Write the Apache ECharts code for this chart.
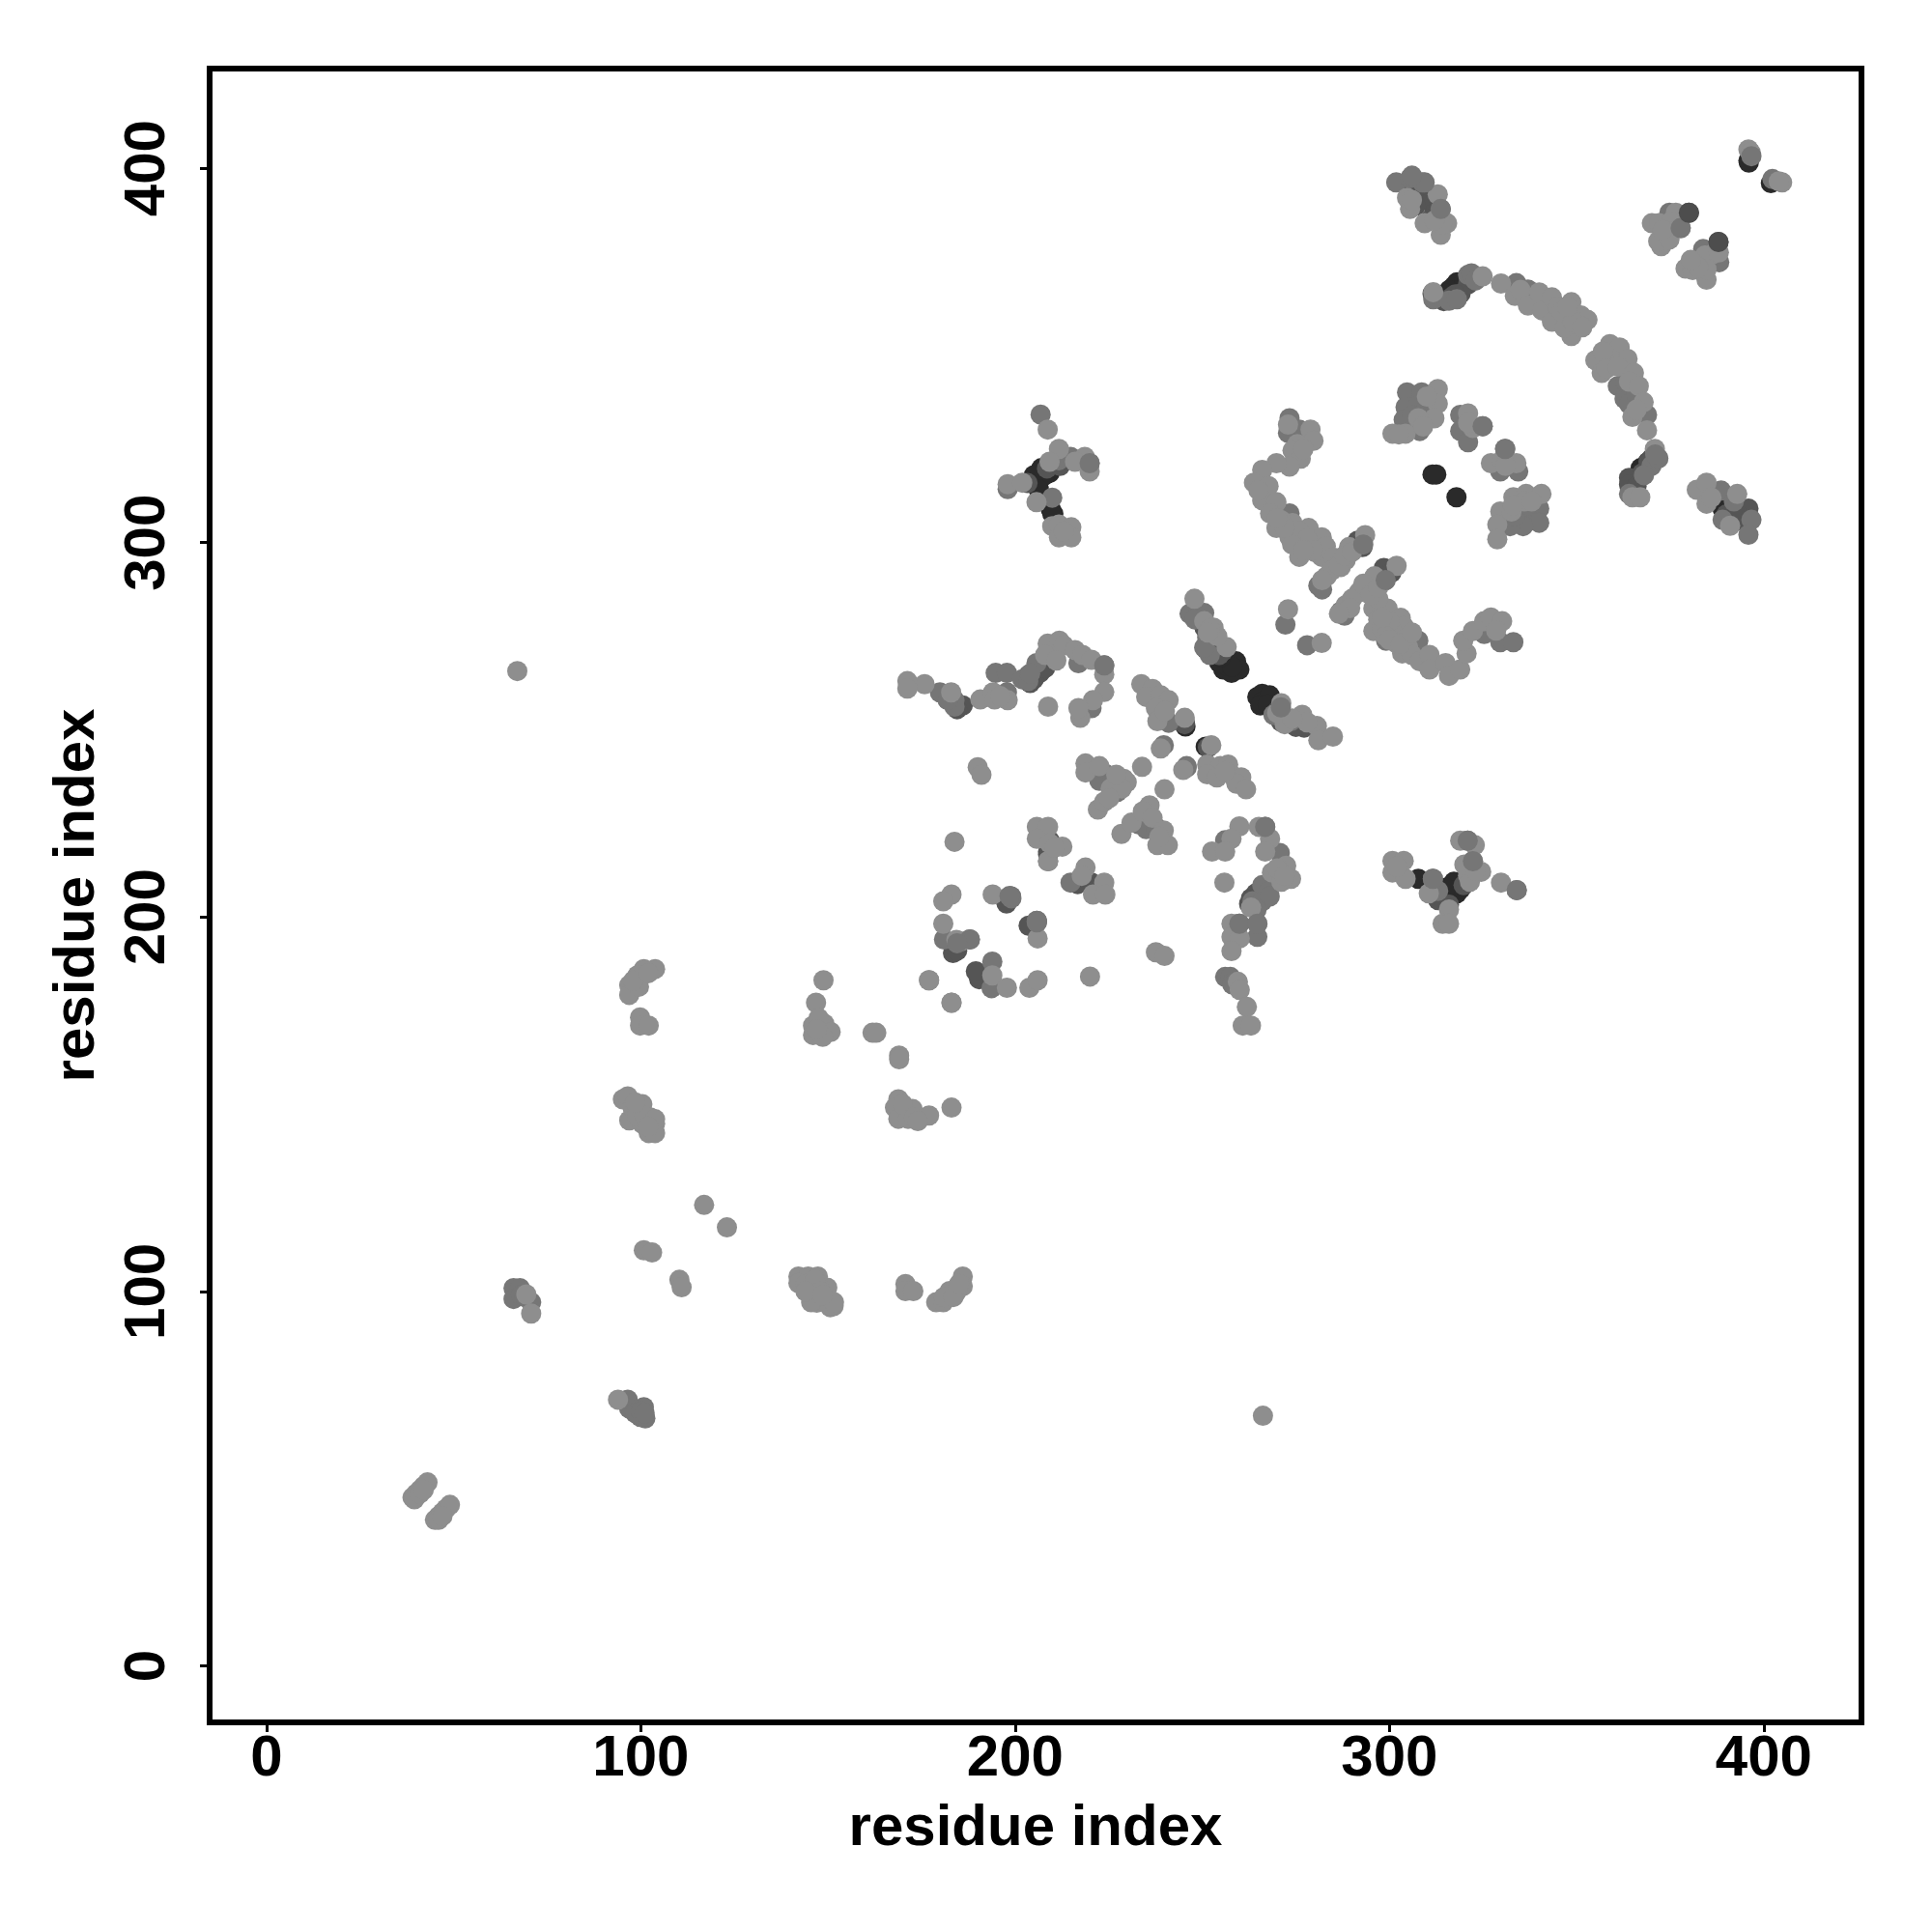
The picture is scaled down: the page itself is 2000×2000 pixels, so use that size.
<!DOCTYPE html>
<html><head><meta charset="utf-8">
<script src="https://cdn.jsdelivr.net/npm/echarts@6/dist/echarts.min.js"></script>
<style>html,body{margin:0;padding:0;background:#fff}#c{width:2000px;height:2000px}</style></head>
<body><div id="c"></div>
<script>
const tickValues=[0,100,200,300,400];
const axisTitle='residue index';
const blackPoints=[
[395.9,402],[401.9,396],[311.5,318.2],[312.5,318.2],[317.9,312.1],
[317.2,368.5],[319.3,368.5],[318,369.5],[316,367.5],[320,370],[315,366.5],
[367.1,319.9],[366.6,317.8],[365.5,316.5],[368.5,320.5],[369,321.5],
[388.6,310],[389,309],
[207,319.9],[209.2,318.6],[206.2,317.7],[204.9,316.4],[206.2,314.7],[208,318],[210,320],[211,321],[205,318],
[209.9,307.8],[209.5,309],
[259,268.3],[255.6,266.1],[259.9,266.1],[257.8,265.2],[256.5,267.2],[254.5,268],[258,266.8],[255,269.5],
[266,259.6],[264.7,258.8],[266,257.5],[268,259.2],[265.5,256.5],[267.5,256.8],
[307.7,210.2],[314.2,206.3],[317.2,209.4],[318,206.3],[316,205.5],[319,207.5],[320,209.5],[315,207.8],[321,210.5],
[210.2,307.7],[206.3,314.2],
[250.9,245.5],[245.5,250.9],[396,401.5]
];
const darkPoints=[
[305.5,393.9],[308.8,394.5],[307,392],[310,392],[311,391],[307,390],[312,388],[311,386.5],
[319,366.5],[321,369],[317.6,366.3],[316.5,365.5],[322,370.5],[314.5,364.5],
[369.2,321.6],[364,317.3],[364,315.5],[366,315],[367.5,318.5],[370,322.5],
[392.4,309.6],[395.9,309.1],[392.4,305.7],[390,307.5],[393,307.5],
[380,388.1],[387.9,380.3],
[292.8,298.8],[298.5,293.2],[291.5,300.5],[300.5,292],
[206.6,265.2],[205,263.5],[208,266.5],[204,262.5],[203.5,264.5],[265.2,206.6],[264.3,206.3],[263,205],[266,207.5],[262.5,203.5],
[245.3,251.5],[251.5,245.3],[245.3,252],
[208.8,216.7],[216.9,209.4],[216.7,208.8],[208.8,217.5],[183.4,190.4],[184.5,191],[190.4,183.4],[190.3,184.2],[189.5,185.5],
[197.6,204.2],[204.2,197.6],[203.6,197.7],[197.7,203.6],[220.4,209.2],[209.2,220.4],
[277.2,250.6],[275,250.8],[271,252.2],[250.6,277.2],[252,274],[251,271.5],
[255.5,271],[254.5,270],[252.5,272.5],[270,255],[272.5,253],
[315.9,203.3],[319.8,208.5],[313,204.5],[203.3,315.9],[311.5,366.5],
[208.5,319.8],[212,320.5],[186,256.5],[184.5,255.5]
];
const mediumPoints=[
[66,100.9],[67.7,100.9],[66,98],[70.7,97.1],[68,99],[69,98.5],
[96.5,71.1],[96.9,68.7],[100.8,69.1],[99.9,66.5],[101.2,66.1],[98.5,67.5],[100,68],[101,67.5],
[301.8,396.2],[305.5,397.3],[313.7,389.1],[308.8,396.2],
[374.8,388.1],[377.8,384],[383.8,378.4],[388.1,374.9],[402.3,397.1],
[311.7,365],[315.9,364.6],[321,371.5],[321.9,371.9],[323,370],[318,365],
[333.9,369.3],[337,367.6],[361,341.8],[362.8,338.4],[368.8,334.1],[364,337],[363,343],[366,339.5],[342,364],[339,365],[336,366.5],
[371.8,322.5],[370,320.5],[368,318],[364,313],
[388.6,313.9],[389,306.1],[396.7,306.1],[395.9,302.1],[392,311],
[304.7,340.1],[308.6,340.1],[304.3,336.2],[307.7,336.7],[303.8,332.8],[308.1,329.8],[306,334],[310,336],
[318.9,334.1],[318.9,329.8],[321,326.8],[324.9,331.1],
[330.9,325],[329.6,319],[334.4,319],
[340,309.1],[336.5,307.8],[340,305.3],[335.7,304.4],[332.2,304.4],[333.5,307],[337,310],
[273.3,333.2],[272.9,329.3],[275.9,330.2],[273.3,307.8],
[281,288.5],[282,287.5],[287,281.6],[288,280.5],[307.7,273.8],[299.1,273.8],[325.3,275.6],[329.6,273.4],[333.1,273.4],
[272.2,278.1],[278,272.6],
[269,254],[273.7,252.3],[251.3,274.7],[250.5,281.2],[246.6,281],[248,279.5],[252,270],[250.5,272],
[206.8,334.2],[214.8,322.9],[219.9,321.2],[211.7,322],[198,314.3],[209.9,312],
[179.9,260],[183.8,257.9],[183.8,256.2],[182,258],[197.8,260],[194.8,265.2],[197.8,265.2],[201.9,263.5],[203.5,263],[205.7,267.8],[216.9,267.8],[223.8,267.2],[204,265],
[220.4,255.8],[240.6,252.3],[241,251.9],[239.7,245.9],[245.8,239.9],[245.8,240.3],
[224.3,238.1],[227.3,233.4],[222.5,236.4],[232.9,224.8],[235,223.5],[237.6,224],[226,236],
[205.8,198.6],[205.8,199],[198.9,205.5],[187.9,194],[181,194],[193.9,188.1],[193.7,181],[208.8,214.9],[214.8,209.2],
[256.1,220.5],[266.8,224.1],[270.7,217.1],[266,208.5],[267.7,206.8],[263.4,204.2],[266,204.2],[268,205.5],[264.5,202],[259.9,198.2],[264.7,198.2],[264.7,194.7],
[256.1,184],[257.5,184],[258,182.5],[311.6,210.2],[320.9,220.4],[322.3,214.9],[334,207.2],[313,207],
[258,182],[182,258]
];
const lightPoints=[
[39,45],[40,46],[41,47],[42,48],[43,49],[39.5,44.5],[41,46],[42,47],[45,39],[46,40],[47,41],[48,42],[49,43],[46,39],[47,40],
[70.7,94.1],[69.4,99.2],[93.9,71.1],[67,265.7],[266.2,66.8],
[95.2,151.3],[96.5,152.1],[96.9,145.7],[100.4,150],[97.8,149.1],[102.5,146.5],[103.8,144.8],[102.1,142.3],[103.8,142.3],[100.4,144.8],[99,147],[101,147],[98.5,150.5],[103.8,146],[102,144],
[151.5,96.1],[150.6,95.8],[150,98],[146,98],[147,97],[149,98.8],[149.8,101],[145.5,100.1],[145.5,97.1],[151.6,97.1],[142.1,104],[144.7,104],[147.3,104],[142.1,102.2],[144,102],[146.5,103],[148,100],[144,100],[148.5,99],
[103.8,186.1],[100.8,186.1],[99.1,184.4],[96.9,181.8],[96.9,179.2],[99.5,181.4],[98,183],[102,185],
[99.8,173.2],[99.8,171],[102.1,171],[170.7,102],[170.7,100.1],[172.8,100.1],
[178.9,97.1],[180.8,97.1],[182.5,100.1],[186,104],[186,101.4],[184.2,99.7],[181,98.5],[183.5,98.5],[185,102],
[100.8,111],[103,110.4],[110.3,103.1],[110.9,101.1],[116.9,123.1],[123,117.1],
[148.8,183.1],[146.8,177.1],[146,171],[146,168.5],[149,171.5],[150.7,169.3],[148.6,168],[147.5,173],[147,170],
[161.9,169.1],[162.9,169.1],[169,163],[169,162],[177,183.1],[183,177.1],[177,147],[183,149.1],
[168.8,151.3],[167.9,149.1],[170.5,148.3],[168.8,146.1],[171.4,146.1],[172.6,148.7],[170,150],[173,146.5],[174,145.5],
[305.5,389.1],[304.7,392.1],[312.9,393],[309.4,385.3],[315.4,385.3],[313.7,382.2],[314,385],[312,386],[306,391.5],
[395.9,405],[396.5,404.2],[404.9,396.2],[404,396.5],
[376.5,388.1],[370.1,385.3],[372,385.3],[375.2,385.7],[374.8,383.1],[372.6,381.4],[372.6,379.2],[371.8,380.5],[374.8,381],[373,383.5],
[386.4,377.1],[384.3,376.7],[381.2,374.5],[379.1,373.2],[381,372.8],[384.7,370.2],[384.7,373],[382.5,373.5],[388,377.5],[380.5,375.5],
[311.7,366.9],[324.9,371.1],[364.9,312.1],[367,312.1],[370.9,325],
[329.8,369.2],[333.5,365.9],[335,367.5],[337,363.3],[340,366.8],[340.8,362],[343.4,365.5],[343.4,359],[345,363],[348.6,364.2],[351.1,360.7],[352.9,359.5],[348.6,355.2],[346.8,357.3],[351,358],[346,361.6],[349,359],[351.5,357.5],[347.5,363],
[358.9,353],[355,348.7],[356.7,345.3],[361.5,352.1],[363.6,349.1],[359,349],[357,351],[358,346.5],[361,347],[365.3,345.3],[364,343],[366.6,341.8],[367.9,337.5],[364.9,333.6],[368.8,330],[366,335.5],
[312.9,341],[312.9,337.1],[312,333.2],[307.7,333.2],[300.8,329.1],[304.3,329.1],[302.5,328.9],[310,339],[309,331],
[321,334.5],[322.3,330.6],[321,332],[327.1,321.2],[330.1,322],[333.9,321.2],[331,320.5],
[333.1,312.1],[336.5,313],[340.6,313],[329.6,308.3],[328.8,304.8],[328.8,300.9],[332.6,308.3],[336,311],[333,310],[338,311],
[382.1,314.1],[384.7,316],[384.7,310.4],[392.9,313],[391,304.5],[386,312],
[272.9,331.5],[278.9,330.2],[279.7,327.2],[275.4,326.3],[274.1,324.6],[276.3,322.4],[273.3,320.3],[269.8,321.2],[277,325],[266,319.4],[263.8,316],[267.7,315.1],[266,311.3],[269.8,310.8],[265,314],[268.1,307.8],[269.8,303.9],[274.1,305.2],[273.3,301.4],[271,306],[278.4,303.9],[281.9,301.4],[275.9,296.2],[278,299.6],[281.9,296.2],[280,297.5],[276,300],[283,299],[276,303],[278,301],[274,299.5],[279.5,298],[277,298],[272,304],[270,306.5],[285,296],
[289.2,298.8],[293.5,302],[288.3,295.3],[285.8,293.6],[283.2,291],[287,293.5],[284.5,292.5],[286.5,294],[288,296.5],[290,297.5],[282,290],
[301.9,293.8],[298.7,289.8],[294.4,288.9],[296,291],[291.8,286.7],[288.3,283.3],[295.7,282.4],[299.5,282.4],[297,285],[292.5,287.5],[290,285],[293,289],[295,286],[297,288],[289.5,282.5],[286.5,281],
[295.7,276.4],[297,279.5],[303,279.9],[303.8,277.7],[301,276],[303.4,270.4],[302,273],[304,274],[298,277],[300,279],[299,275],[305,272],[306,270],[298,280],[300,274],[303,273],[306,276],[308.1,268.3],[310.7,270],[310.7,266.1],[315,267.8],[315.9,264.4],[318.9,266.1],[320.6,270.4],[319.7,273.8],[322.3,276.4],[325.3,279],[327.1,280],[330.1,279],[328.5,276.5],
[272.9,282.2],[281.9,273.2],
[271.1,257.1],[276.7,254],[272,251.5],[280.6,251],[281,247.2],[284.9,248.2],[278,252],[270,254.5],[274,253],
[256.5,272.1],[247.9,285],[250.5,279],[253,277.3],[254,275],[252,277],[251.5,276],
[208.7,330.2],[211.7,325],[218.6,322.9],[219.9,319],[216,321.6],[209.2,321.6],[198,315.6],[201.9,316],[205.7,310.8],[209.9,304.4],[211.7,304.8],[215,304.1],[211.7,301.4],[215,301.4],[213,303],
[175.8,262.2],[171.2,263],[171.2,261],[182.9,260],[190.7,258.1],[194.1,260],[194.5,258.1],[198,257.9],[196,259],
[208.7,273],[211.8,273.8],[210,270],[208,270],[213,272.5],[216,271.3],[218,270],[220.4,268.7],[223.8,264.8],[211,268.5],
[208.8,256.2],[223.8,260.1],[220.8,257.9],[217.4,253.2],[216.9,255.8],
[233.7,262.2],[236.7,260.9],[235,258.8],[238.9,259.2],[241,257.9],[237.6,255.8],[238,252.3],[240,255],[245.3,253.2],[238.9,245],
[252.4,245.9],[244.9,239.3],[233.9,240.1],[239.9,234.1],
[218.8,241],[218.8,238.6],[222.5,240.3],[229,236.9],[229.8,236],[225.5,234.3],[222.1,228.7],[223.8,230.8],[228.5,234.3],[225.1,231.7],[227,238],
[235.9,229.8],[228.4,222.2],[231.1,225.2],[234.1,228.2],[236.7,226.5],[239.7,223.1],[238,219.2],[240.8,219.2],[238.5,221.4],
[251.3,240.7],[254.8,240.3],[256.9,240.7],[251.3,238.1],[253.9,237.3],[258.2,237.7],[260.4,237.3],[259.1,235.6],[261.7,234.1],[256,239],
[205.8,224.1],[208.8,224.1],[205.8,220.9],[209.2,219.7],[212.6,218.8],[208.8,214.9],[218.8,213.2],[217.8,211],[223.8,209.2],[220.8,206],[224.1,206],[210.5,218.5],
[183.8,220.1],[183,206],[180.8,204.2],[194,206],[206,194.3],[180.8,198.2],[184.3,193.9],[185.5,193.5],[193.9,184.4],[197.8,181.1],[177,183.1],[183,177.1],[203.8,181.1],[206,183.1],[220,184.1],
[190,240],[191,238],[237.6,190.6],[239.9,189.6],
[259.9,224.2],[265.1,224.1],[257.8,220.9],[252.6,217.5],[256.1,217.5],[268.1,220.9],[266.8,217.5],[272.4,213.7],[273.7,210.2],[268.6,211.9],[271.1,209.4],[270,213],[272,211],[263,202.5],[255.9,209.2],
[257.8,198.2],[257.8,194.7],[260,194.3],[257.8,190.9],[259.5,182.7],[260,180.5],[261.9,176],[260.8,171],[263,171],
[300.8,215],[303.8,215],[300.8,211.9],[304.3,210.2],[302,213.5],[310.5,206.3],[315.9,202],[314.2,198.2],[315.9,198.2],[318.9,220.4],[322.8,219.2],[324.5,212.1],[321,211.1],[321.5,209.4],[320,214],[329.8,209.2],[323,212.5]
];
const topMediumPoints=[
[396.7,403.2],[309.4,396.2],[313.7,389.1],[377.8,384],[371.8,322.5],[371,323.5],
[219.9,321.2],[330.9,325],[324.9,331.1],[306,398],
[198.9,205.5],[205.8,199],[205.8,198.6],[199,205],[198.5,205.6],[187.9,194],[184.5,193],[223.8,267.2],[271,256],
[259.9,198.2],[264.7,198.2],[266.8,224.1],[311.6,210.2],[320.9,220.4],[322.3,214.9],[334,207.2],
[299,290],[293,299.5]
];
const topDarkPoints=[
[380,388.1],[387.9,380.3]
];
const chart=echarts.init(document.getElementById('c'),null,{renderer:'canvas'});
const font={fontFamily:'Liberation Sans',fontWeight:'bold',fontSize:60,color:'#000'};
function makeAxis(min,max,rotate,nameGap,labelMargin){
  return {type:'value',min,max,splitLine:{show:false},axisLine:{show:false,onZero:false},
    name:axisTitle,nameLocation:'middle',nameGap,nameTextStyle:font,
    axisTick:{show:true,length:10,inside:false,customValues:tickValues,lineStyle:{color:'#000',width:3}},
    axisLabel:{show:true,rotate,margin:labelMargin,customValues:tickValues,showMinLabel:true,showMaxLabel:true,...font}};
}
function scatter(data,color){
  return {type:'scatter',data,symbol:'circle',symbolSize:21,itemStyle:{color,opacity:1},silent:true,animation:false};
}
chart.setOption({
  animation:false,backgroundColor:'#fff',
  grid:{left:217,right:73,top:71,bottom:217,show:true,borderColor:'#000',borderWidth:6,backgroundColor:'transparent'},
  xAxis:makeAxis(-15.2,426.1,0,80,8),
  yAxis:makeAxis(-15.1,426.6,90,107,34),
  series:[scatter(blackPoints,'#2a2a2a'),scatter(darkPoints,'#555555'),scatter(mediumPoints,'#767676'),scatter(lightPoints,'#8e8e8e'),scatter(topMediumPoints,'#767676'),scatter(topDarkPoints,'#4d4d4d')]
});
</script></body></html>
